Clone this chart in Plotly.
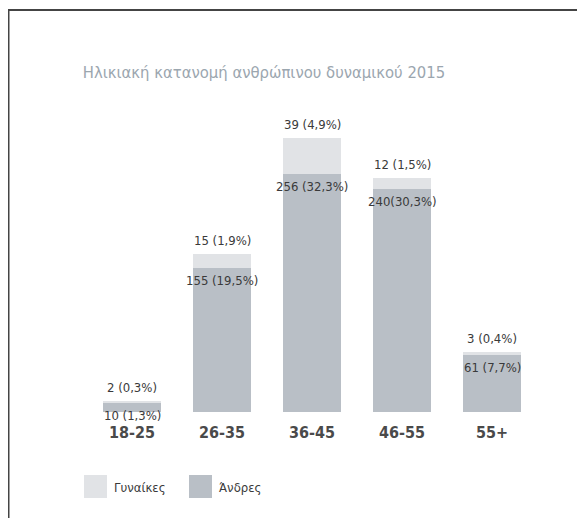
import plotly.graph_objects as go

# data
age_groups = ["18-25", "26-35", "36-45", "46-55", "55+"]
men = [10, 155, 256, 240, 61]
women = [2, 15, 39, 12, 3]
men_labels = ["10 (1,3%)", "155 (19,5%)", "256 (32,3%)", "240(30,3%)", "61 (7,7%)"]
women_labels = ["2 (0,3%)", "15 (1,9%)", "39 (4,9%)", "12 (1,5%)", "3 (0,4%)"]

title = "Ηλικιακή κατανομή ανθρώπινου δυναμικού 2015"
legend_names = ["Γυναίκες", "Άνδρες"]

W, H = 585, 518
ML, MR, MT, MB = 79, 56, 97, 114
FONT = "DejaVu Sans Condensed, Liberation Sans Narrow, Arial Narrow, sans-serif"
MEN_COLOR = "#b9bfc6"
WOMEN_COLOR = "#e1e3e6"
TEXT_COLOR = "#3a3a3a"


def px_x(x):
    return (x - ML) / (W - ML - MR)


def px_y(y):
    return (H - MB - y) / (H - MT - MB)


fig = go.Figure()
fig.add_trace(go.Bar(x=age_groups, y=men, name=legend_names[1],
                     marker=dict(color=MEN_COLOR, line=dict(width=0))))
fig.add_trace(go.Bar(x=age_groups, y=women, name=legend_names[0],
                     marker=dict(color=WOMEN_COLOR, line=dict(width=0))))

label_font = dict(size=13, color=TEXT_COLOR, family=FONT)
annotations = []
for cat, m, w, ml, wl in zip(age_groups, men, women, men_labels, women_labels):
    annotations.append(dict(x=cat, y=m, text=ml, showarrow=False, yanchor="top",
                            yshift=-3, font=label_font))
    annotations.append(dict(x=cat, y=m + w, text=wl, showarrow=False, yanchor="bottom",
                            yshift=4, font=label_font))

# legend drawn by hand so the swatches are large like the original
shapes = []
legend_items = [(76, WOMEN_COLOR, legend_names[0]), (181, MEN_COLOR, legend_names[1])]
for x0, color, name in legend_items:
    shapes.append(dict(type="rect", xref="paper", yref="paper",
                       x0=px_x(x0), x1=px_x(x0 + 23), y0=px_y(490), y1=px_y(467),
                       fillcolor=color, line=dict(width=0)))
    annotations.append(dict(x=px_x(x0 + 28), y=px_y(479), xref="paper", yref="paper",
                            text=name, showarrow=False, xanchor="left", yanchor="middle",
                            font=dict(size=13, color=TEXT_COLOR, family=FONT)))

# frame: left and top edges only
shapes.append(dict(type="line", xref="paper", yref="paper",
                   x0=px_x(0), x1=px_x(0), y0=px_y(2), y1=px_y(H + 2),
                   line=dict(color="#444444", width=3)))
shapes.append(dict(type="line", xref="paper", yref="paper",
                   x0=px_x(0), x1=px_x(W + 2), y0=px_y(2), y1=px_y(2),
                   line=dict(color="#444444", width=2)))

fig.update_layout(
    width=W, height=H,
    margin=dict(l=ML, r=MR, t=MT, b=MB),
    paper_bgcolor="white", plot_bgcolor="white",
    barmode="stack", bargap=0.355,
    showlegend=False,
    title=dict(text=title, x=256 / W, xanchor="center", y=1 - 64 / H, yanchor="middle",
               yref="container", font=dict(size=16.5, color="#9ba6af", family=FONT)),
    xaxis=dict(showgrid=False, showline=False, zeroline=False, ticks="",
               ticklabelstandoff=9,
               tickfont=dict(size=16, color="#4a4a4a", family=FONT, weight="bold")),
    yaxis=dict(visible=False, range=[0, 330]),
    annotations=annotations,
    shapes=shapes,
)

fig.write_html("out.html")
